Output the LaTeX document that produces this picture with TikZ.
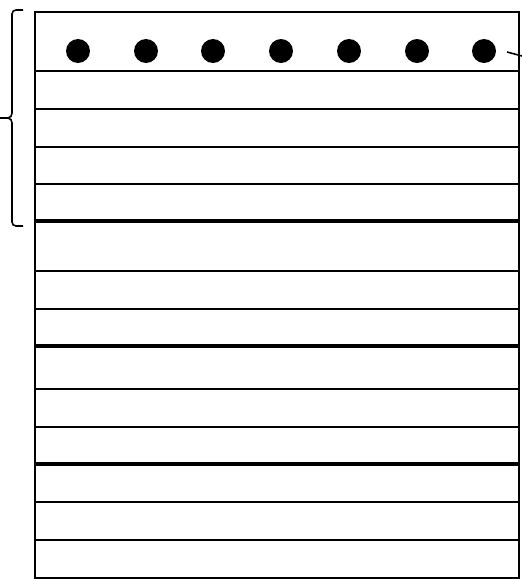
\documentclass[tikz,border=0pt]{standalone}
\begin{document}
\begin{tikzpicture}[x=1pt,y=-1pt,
  thinrule/.style={line width=1.7pt},
  thickrule/.style={line width=4pt},
  bracel/.style={line width=1.6pt},
  dot/.style={circle,fill=black,inner sep=0pt,minimum size=24pt}]
\useasboundingbox (0,0) rectangle (522,579);
% frame
\draw[thinrule] (35,12) rectangle (519,578);
% thin rules
\foreach \y in {71,109,147,184,271,309,389,427,502,540}
  \draw[thinrule] (35,\y) -- (519,\y);
% thick rules
\foreach \y in {221,346,464}
  \draw[thickrule] (35,\y) -- (519,\y);
% dots
\foreach \x/\n in {78/1,146/2,213/3,281/4,349/5,417/6,484/7}
  \node[dot] (d\n) at (\x,51) {};
\coordinate (lend) at (522,56);
\draw[bracel] (507,52) -- (lend);
% brace
\draw[bracel] (23,10) -- (16,10) to[out=180,in=90] (12,14) -- (12,113)
  to[out=-90,in=0] (8,118) -- (0,118);
\draw[bracel] (8,118) to[out=0,in=90] (12,123) -- (12,222)
  to[out=-90,in=180] (16,226) -- (23,226);
\end{tikzpicture}
\end{document}
